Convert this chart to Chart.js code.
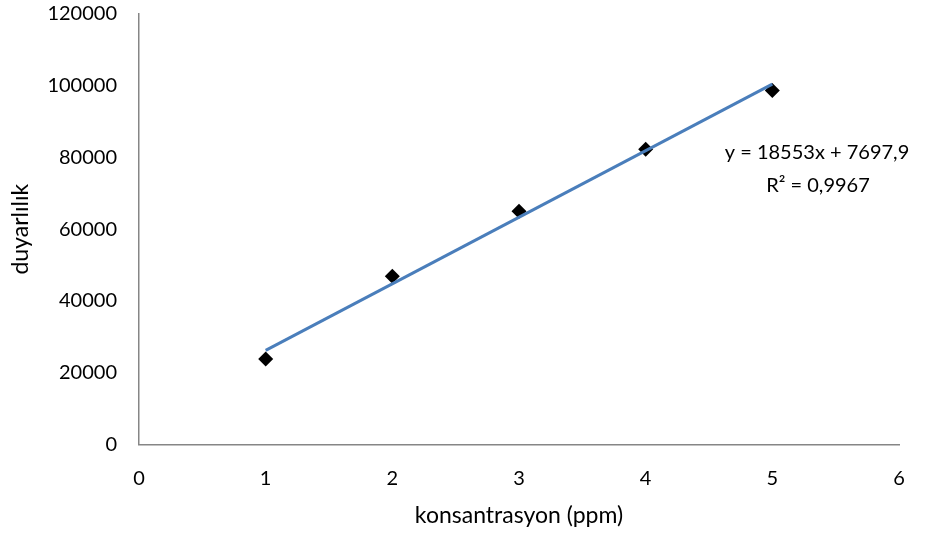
<!DOCTYPE html>
<html>
<head>
<meta charset="utf-8">
<script src="https://cdn.jsdelivr.net/npm/chart.js@4/dist/chart.umd.min.js"></script>
<style>
  html, body { margin: 0; padding: 0; background: #fff; }
  #wrap { width: 933px; height: 537px; }
</style>
</head>
<body>
<div id="wrap"><canvas id="chart"></canvas></div>
<script>
const concentrations = [1, 2, 3, 4, 5];
const sensitivity = [23800, 46900, 65000, 82300, 98700];

// trendline ends, from the equation shown on the chart
const trendX = [1, 5];
const trendY = [26251, 100463];
const equationLines = ["y = 18553x + 7697,9", "R² = 0,9967"];

const xTitle = "konsantrasyon (ppm)";
const yTitle = "duyarlılık";

const FONT = "Lato";
const axisColor = "#868686";

const equationLabel = {
  id: "equationLabel",
  afterDatasetsDraw(chart) {
    const ctx = chart.ctx;
    const area = chart.chartArea;
    ctx.save();
    ctx.font = "20px " + FONT;
    ctx.fillStyle = "#000";
    ctx.textAlign = "center";
    ctx.textBaseline = "middle";
    ctx.fillText(equationLines[0], area.left + 678, 153);
    ctx.fillText(equationLines[1], area.left + 679, 186);
    ctx.restore();
  },
};

new Chart(document.getElementById("chart"), {
  type: "scatter",
  data: {
    datasets: [
      {
        label: "trend",
        data: trendX.map((x, i) => ({ x: x, y: trendY[i] })),
        showLine: true,
        borderColor: "#4a7ebb",
        borderWidth: 3,
        pointRadius: 0,
        order: 0,
      },
      {
        label: "duyarlılık",
        data: concentrations.map((x, i) => ({ x: x, y: sensitivity[i] })),
        pointStyle: "rectRot",
        pointRadius: 7.5,
        backgroundColor: "#000",
        borderColor: "#000",
        borderWidth: 0,
        order: 1,
      },
    ],
  },
  options: {
    responsive: true,
    maintainAspectRatio: false,
    animation: false,
    layout: { padding: { top: 14, right: 34, left: 0, bottom: 0 } },
    plugins: { legend: { display: false }, tooltip: { enabled: false } },
    scales: {
      x: {
        type: "linear",
        min: 0,
        max: 6,
        grid: { display: false, drawTicks: false },
        border: { display: true, color: axisColor, width: 1.5 },
        ticks: { stepSize: 1, padding: 22, color: "#000", font: { family: FONT, size: 20 } },
        title: { display: true, text: xTitle, color: "#000", font: { family: FONT, size: 23 }, padding: { top: 0, bottom: 8 } },
        afterFit(scale) {
          scale.height = 537 - 444.5;
          scale.paddingLeft = 0;
          scale.paddingRight = 0;
        },
      },
      y: {
        min: 0,
        max: 120000,
        grid: { display: false, drawTicks: false },
        border: { display: true, color: axisColor, width: 1.5 },
        ticks: {
          stepSize: 20000,
          padding: 22,
          color: "#000",
          font: { family: FONT, size: 20 },
          callback: (v) => String(v),
        },
        title: { display: true, text: yTitle, color: "#000", font: { family: FONT, size: 23 }, padding: { top: 7, bottom: 0 } },
        afterFit(scale) {
          scale.width = 139;
          scale.paddingTop = 0;
          scale.paddingBottom = 0;
        },
      },
    },
  },
  plugins: [equationLabel],
});
</script>
</body>
</html>
